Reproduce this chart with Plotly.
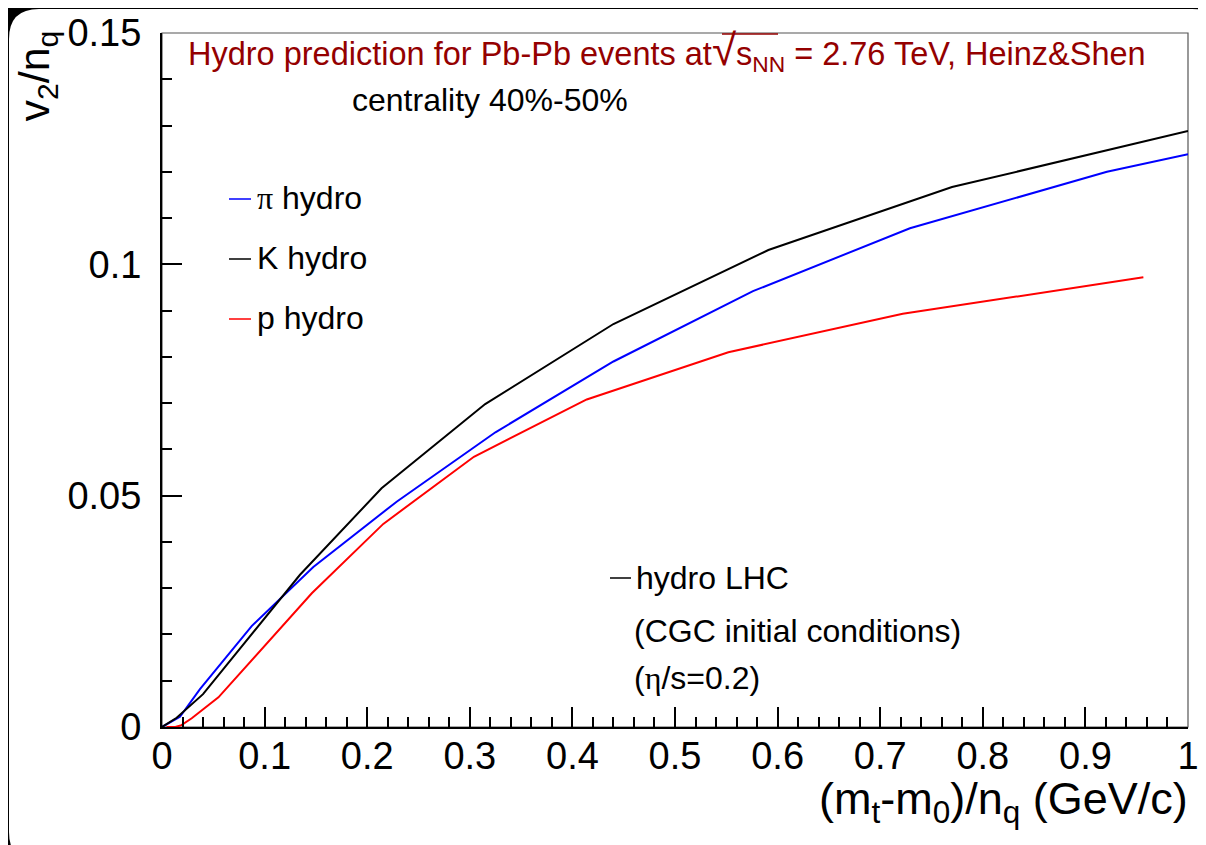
import plotly.graph_objects as go

# ---------------- data ----------------
pi_x = [0, 0.0175, 0.037, 0.0874, 0.1475, 0.2287, 0.325, 0.440, 0.576, 0.729, 0.921, 1.0]
pi_y = [0, 0.0022, 0.0082, 0.0218, 0.0346, 0.0487, 0.0637, 0.0790, 0.0942, 0.1078, 0.1200, 0.1238]

k_x = [0, 0.0143, 0.040, 0.1345, 0.214, 0.315, 0.440, 0.591, 0.770, 0.989, 1.0]
k_y = [0, 0.0020, 0.0071, 0.0329, 0.0516, 0.0698, 0.0871, 0.1031, 0.1167, 0.1283, 0.1288]

p_x = [0.0045, 0.013, 0.019, 0.029, 0.055, 0.146, 0.2157, 0.304, 0.414, 0.552, 0.722, 0.9565]
p_y = [0, 0, 0.0004, 0.0019, 0.0064, 0.0289, 0.0439, 0.0584, 0.0708, 0.0810, 0.0893, 0.0972]

x_ticks = [0, 0.1, 0.2, 0.3, 0.4, 0.5, 0.6, 0.7, 0.8, 0.9, 1]
y_ticks = [0, 0.05, 0.1, 0.15]

# ---------------- layout geometry (screen pixels) ----------------
WIN_W, WIN_H = 1206, 845
OFF = 8                     # page body margin
W, H = WIN_W - OFF, WIN_H - OFF
L, R, T, B = 162, 1188, 33, 727   # plot-area box in screen pixels


def px(xp):
    return (xp - L) / (R - L)


def py(yp):
    return (B - yp) / (B - T)


FONT = "Liberation Sans, Arial, Helvetica, sans-serif"
SERIF = "Liberation Serif, Times New Roman, serif"

fig = go.Figure()
fig.add_trace(go.Scatter(x=pi_x, y=pi_y, mode="lines", line=dict(color="#0000ff", width=2),
                         name="π hydro", showlegend=False))
fig.add_trace(go.Scatter(x=k_x, y=k_y, mode="lines", line=dict(color="#000000", width=2),
                         name="K hydro", showlegend=False))
fig.add_trace(go.Scatter(x=p_x, y=p_y, mode="lines", line=dict(color="#ff0000", width=2),
                         name="p hydro", showlegend=False))

axis_common = dict(
    automargin=False,
    showgrid=False, zeroline=False, showline=True, linecolor="black", linewidth=2,
    ticks="inside", ticklen=20, tickwidth=2, tickcolor="black",
    tickfont=dict(family=FONT, size=38, color="black"),
    minor=dict(ticks="inside", ticklen=10, tickwidth=2, tickcolor="black"),
)

fig.update_xaxes(range=[0, 1], tickvals=x_ticks, ticktext=[f"{v:g}" for v in x_ticks],
                 ticklabelstandoff=-6, **axis_common)
fig.update_xaxes(minor_dtick=0.02)
fig.update_yaxes(range=[0, 0.15], tickvals=y_ticks, ticktext=[f"{v:g}" for v in y_ticks],
                 ticklabelstandoff=11, **axis_common)
fig.update_yaxes(minor_dtick=0.01)

TITLE_COL = "#940000"

shapes = []
# rounded white page on a black background
x0, x1, y0, y1, r = px(9), px(1222), py(9), py(862), 30
rx, ry = r / (R - L), r / (B - T)
path = (f"M {x0+rx},{y0} L {x1-rx},{y0} Q {x1},{y0} {x1},{y0-ry} "
        f"L {x1},{y1+ry} Q {x1},{y1} {x1-rx},{y1} L {x0+rx},{y1} "
        f"Q {x0},{y1} {x0},{y1+ry} L {x0},{y0-ry} Q {x0},{y0} {x0+rx},{y0} Z")
shapes.append(dict(type="path", xref="paper", yref="paper", path=path,
                   fillcolor="white", line=dict(width=0), layer="below"))
# thin frame (top / right)
shapes.append(dict(type="rect", xref="paper", yref="paper", x0=0, x1=1, y0=0, y1=1,
                   line=dict(color="#555555", width=1.2), layer="below"))
# overline of the square-root sign in the title
shapes.append(dict(type="line", xref="paper", yref="paper", x0=px(722), x1=px(778),
                   y0=py(34), y1=py(34), line=dict(color=TITLE_COL, width=1.6)))

# legend keys
legend_keys = [("#0000ff", 199), ("#000000", 259), ("#ff0000", 319)]
for col, yy in legend_keys:
    shapes.append(dict(type="line", xref="paper", yref="paper", x0=px(229), x1=px(251),
                       y0=py(yy), y1=py(yy), line=dict(color=col, width=1.5)))
shapes.append(dict(type="line", xref="paper", yref="paper", x0=px(610), x1=px(631),
                   y0=py(578), y1=py(578), line=dict(color="black", width=1.5)))

anns = []


def text(s, xp, yp, size=32, color="black", xanchor="left", yanchor="middle", angle=0, family=FONT):
    anns.append(dict(text=s, x=px(xp), y=py(yp), xref="paper", yref="paper", showarrow=False,
                     xanchor=xanchor, yanchor=yanchor, textangle=angle,
                     font=dict(family=family, size=size, color=color)))


text("Hydro prediction for Pb-Pb events at<span style='font-size:44px'>√</span>"
     "s<sub>NN</sub> = 2.76 TeV, Heinz&Shen",
     186, 51, size=32.5, color=TITLE_COL)
text("centrality 40%-50%", 350, 100, size=32)
text(f"<span style='font-family:{SERIF}'>π</span> hydro", 255, 198, size=32)
text("K hydro", 255, 258, size=32)
text("p hydro", 255, 318, size=32)
text("hydro LHC", 634, 578, size=32)
text("(CGC initial conditions)", 632, 631, size=32)
text(f"(<span style='font-family:{SERIF}'>η</span>/s=0.2)", 632, 678, size=32)

# axis titles
text("(m<sub>t</sub>-m<sub>0</sub>)/n<sub>q</sub> (GeV/c)", 1190, 801, size=45,
     xanchor="right", yanchor="middle")
text("v<sub>2</sub>/n<sub>q</sub>", 37, 29, size=43, xanchor="center", yanchor="top", angle=-90)

fig.update_layout(
    width=W, height=H,
    margin=dict(l=L - OFF, r=W - (R - OFF), t=T - OFF, b=H - (B - OFF), pad=0, autoexpand=False),
    paper_bgcolor="black", plot_bgcolor="white",
    shapes=shapes, annotations=anns, showlegend=False,
    font=dict(family=FONT),
)

fig.write_html("out.html")
